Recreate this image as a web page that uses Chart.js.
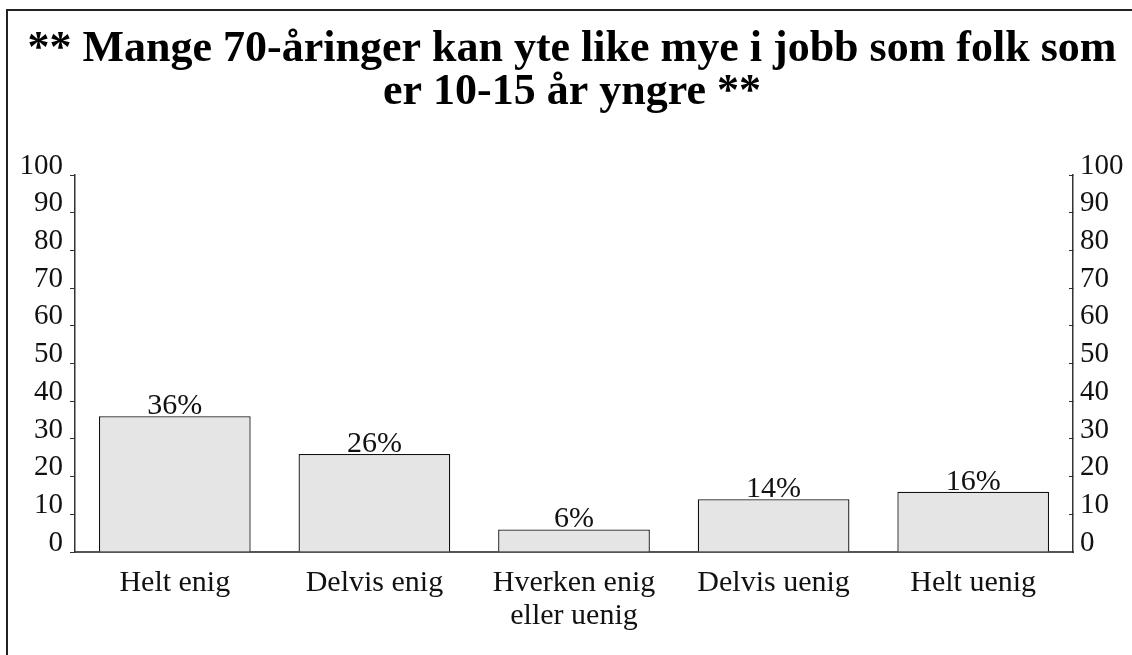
<!DOCTYPE html>
<html>
<head>
<meta charset="utf-8">
<script src="https://cdn.jsdelivr.net/npm/chart.js@4/dist/chart.umd.min.js"></script>
<style>
  html, body { margin: 0; padding: 0; background: #fff; overflow: hidden; }
  canvas { display: block; }
</style>
</head>
<body>
<canvas id="c" width="1132" height="655"></canvas>
<script>
const titleLines = ["** Mange 70-åringer kan yte like mye i jobb som folk som", "er 10-15 år yngre **"];
const categories = ["Helt enig", "Delvis enig", ["Hverken enig", "eller uenig"], "Delvis uenig", "Helt uenig"];
const values = [36, 26, 6, 14, 16];
const valueLabels = ["36%", "26%", "6%", "14%", "16%"];
const yMin = 0, yMax = 100, yStep = 10;

const SERIF = "'Liberation Serif', 'Times New Roman', serif";

const framePlugin = {
  id: 'frame',
  beforeDraw(chart) {
    const ctx = chart.ctx;
    ctx.save();
    ctx.fillStyle = '#fff';
    ctx.fillRect(0, 0, chart.width, chart.height);
    ctx.strokeStyle = '#222';
    ctx.lineWidth = 2;
    ctx.beginPath();
    ctx.moveTo(7, chart.height + 2);
    ctx.lineTo(7, 10);
    ctx.lineTo(chart.width + 2, 10);
    ctx.stroke();
    ctx.restore();
  }
};

const valueLabelPlugin = {
  id: 'valueLabels',
  afterDatasetsDraw(chart) {
    const ctx = chart.ctx;
    const meta = chart.getDatasetMeta(0);
    ctx.save();
    ctx.font = "30px " + SERIF;
    ctx.fillStyle = '#111';
    ctx.textAlign = 'center';
    ctx.textBaseline = 'alphabetic';
    meta.data.forEach((bar, i) => {
      ctx.fillText(valueLabels[i], bar.x, bar.y - 2);
    });
    ctx.restore();
  }
};

new Chart(document.getElementById('c'), {
  type: 'bar',
  data: {
    labels: categories,
    datasets: [{
      data: values,
      yAxisID: 'y',
      backgroundColor: '#e5e5e5',
      borderColor: '#111',
      borderWidth: 1.3,
      barPercentage: 0.76,
      categoryPercentage: 1.0
    }]
  },
  options: {
    responsive: false,
    animation: false,
    devicePixelRatio: 1,
    layout: { padding: { left: 12, right: 0, top: 0, bottom: 0 } },
    plugins: {
      legend: { display: false },
      tooltip: { enabled: false },
      title: {
        display: true,
        text: titleLines,
        color: '#000',
        font: { family: SERIF, size: 44, weight: 'bold', lineHeight: '43px' },
        padding: { top: 28, bottom: 61 }
      }
    },
    scales: {
      x: {
        grid: { display: false, drawTicks: false },
        border: { display: true, color: '#555', width: 2 },
        ticks: { color: '#111', font: { family: SERIF, size: 30, lineHeight: 1.1 }, padding: 15, maxRotation: 0, autoSkip: false },
        afterFit(scale) { scale.height = 103; }
      },
      y: {
        position: 'left',
        min: yMin, max: yMax,
        grid: { drawOnChartArea: false, drawTicks: true, tickLength: 5, color: '#333', lineWidth: 1 },
        border: { display: true, color: '#333', width: 1.5 },
        ticks: { stepSize: yStep, autoSkip: false, color: '#111', font: { family: SERIF, size: 29 }, padding: 7, labelOffset: -9 },
        afterFit(scale) { scale.width = 63; }
      },
      y2: {
        position: 'right',
        min: yMin, max: yMax,
        grid: { drawOnChartArea: false, drawTicks: true, tickLength: -4, color: '#333', lineWidth: 1 },
        border: { display: true, color: '#333', width: 1.5 },
        ticks: { stepSize: yStep, autoSkip: false, color: '#111', font: { family: SERIF, size: 29 }, padding: 11, labelOffset: -9 },
        afterFit(scale) { scale.width = 59; }
      }
    }
  },
  plugins: [framePlugin, valueLabelPlugin]
});
</script>
</body>
</html>
